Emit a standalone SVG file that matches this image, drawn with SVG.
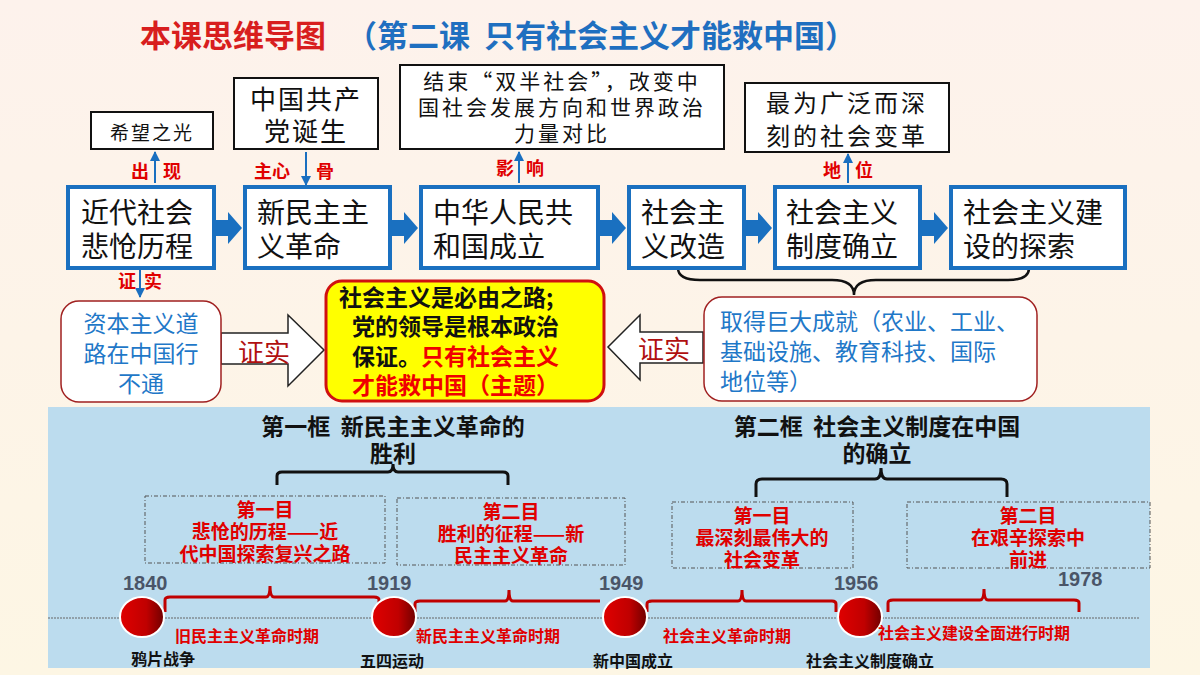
<svg xmlns="http://www.w3.org/2000/svg" width="1200" height="675" viewBox="0 0 1200 675">
<defs>
<linearGradient id="bg" x1="0" y1="0" x2="0" y2="1"><stop offset="0" stop-color="#fdf2ec"/><stop offset="1" stop-color="#fdf6e4"/></linearGradient>
<linearGradient id="ball" x1="0" y1="0" x2="1" y2="0"><stop offset="0" stop-color="#e00000"/><stop offset="0.6" stop-color="#c00000"/><stop offset="1" stop-color="#700000"/></linearGradient>
<marker id="ah" viewBox="0 0 10 10" refX="9" refY="5" markerWidth="5" markerHeight="5" orient="auto"><path d="M0,0 L10,5 L0,10 z" fill="#1a6fc0"/></marker>
</defs>
<style>
text{font-family:"Noto Sans CJK SC","Liberation Sans",sans-serif;dominant-baseline:central;white-space:pre}
.bx{fill:#fff;stroke:#1a70c0;stroke-width:4}
.tb{fill:#fff;stroke:#111;stroke-width:2}
.bt{font-size:28px;fill:#111}
.st{fill:#111}
.lab{font-size:18px;fill:#e00000;font-weight:bold}
.conn{stroke:#1a6fc0;stroke-width:2;fill:none;marker-end:url(#ah)}
.ba{fill:#1a70c0}
.bl{font-size:23px;fill:#1f78c8}
.rb{fill:#fff;stroke:#a02020;stroke-width:1.5}
.hd{font-size:23px;font-weight:bold;fill:#111}
.db{fill:none;stroke:#555;stroke-width:1;stroke-dasharray:4 2 1 2}
.dt{font-size:19px;font-weight:bold;fill:#e00000}
.yr{font-size:20px;font-weight:bold;fill:#4a5568;font-family:"Liberation Sans",sans-serif}
.pr{font-size:16px;font-weight:bold;fill:#e00000}
.ev{font-size:16px;font-weight:bold;fill:#111}
.brk{fill:none;stroke:#c00000;stroke-width:3}
.brc{fill:none;stroke:#111;stroke-width:3}
</style>
<rect width="1200" height="675" fill="url(#bg)"/>
<text x="140" y="33" font-size="31" font-weight="bold" fill="#d81e1e">本课思维导图</text>
<text x="346" y="33" font-size="31" font-weight="bold" fill="#1f6fc0" xml:space="preserve">（第二课  只有社会主义才能救中国）</text>

<g id="connectors">
<path class="conn" d="M155,183 V152"/>
<path class="conn" d="M306,152 V185"/>
<path class="conn" d="M519,183 V152"/>
<path class="conn" d="M848,183 V154"/>
<path class="conn" d="M140,270 V297"/>
<path class="ba" d="M216,220 h12 v-8 l14,16 l-14,16 v-8 h-12 z"/>
<path class="ba" d="M392,220 h12 v-8 l14,16 l-14,16 v-8 h-12 z"/>
<path class="ba" d="M600,220 h12 v-8 l14,16 l-14,16 v-8 h-12 z"/>
<path class="ba" d="M746,220 h12 v-8 l14,16 l-14,16 v-8 h-12 z"/>
<path class="ba" d="M922,220 h12 v-8 l14,16 l-14,16 v-8 h-12 z"/>
<path d="M221,333 H288 V315 L324,350 L288,386 V364 H221 z" fill="#fff" stroke="#222" stroke-width="1.5"/>
<path d="M703,332 H640 V315 L608,347 L640,380 V363 H703 z" fill="#fff" stroke="#222" stroke-width="1.5"/>
<path d="M678,268 Q678,280 700,280 H832 Q854,280 854,295 Q854,280 876,280 H1008 Q1029,280 1029,268" fill="none" stroke="#111" stroke-width="2.5"/>
</g>
<text class="lab" x="140" y="170" text-anchor="middle">出</text><text class="lab" x="172" y="170" text-anchor="middle">现</text>
<text class="lab" x="272" y="170" text-anchor="middle">主心</text><text class="lab" x="325" y="170" text-anchor="middle">骨</text>
<text class="lab" x="505" y="167" text-anchor="middle">影</text><text class="lab" x="535" y="167" text-anchor="middle">响</text>
<text class="lab" x="832" y="169" text-anchor="middle">地</text><text class="lab" x="864" y="169" text-anchor="middle">位</text>
<text class="lab" x="127" y="280" text-anchor="middle" font-size="16">证</text><text class="lab" x="153" y="280" text-anchor="middle" font-size="16">实</text>
<text x="264" y="350" font-size="26" fill="#b01010" text-anchor="middle">证实</text>
<text x="664" y="347" font-size="26" fill="#b01010" text-anchor="middle">证实</text>

<g id="n1"><rect class="bx" x="68" y="187" width="146" height="81"/><text class="bt" x="81" y="211">近代社会</text><text class="bt" x="81" y="245">悲怆历程</text></g>
<g id="n2"><rect class="bx" x="245" y="187" width="145" height="81"/><text class="bt" x="257" y="211">新民主主</text><text class="bt" x="257" y="245">义革命</text></g>
<g id="n3"><rect class="bx" x="421" y="187" width="177" height="81"/><text class="bt" x="433" y="211">中华人民共</text><text class="bt" x="433" y="245">和国成立</text></g>
<g id="n4"><rect class="bx" x="629" y="187" width="115" height="81"/><text class="bt" x="641" y="211">社会主</text><text class="bt" x="641" y="245">义改造</text></g>
<g id="n5"><rect class="bx" x="775" y="187" width="145" height="81"/><text class="bt" x="786" y="211">社会主义</text><text class="bt" x="786" y="245">制度确立</text></g>
<g id="n6"><rect class="bx" x="951" y="187" width="174" height="81"/><text class="bt" x="963" y="211">社会主义建</text><text class="bt" x="963" y="245">设的探索</text></g>

<g id="t1"><rect class="tb" x="91" y="112" width="122" height="37"/><text x="152" y="131" font-size="19" letter-spacing="2" fill="#111" text-anchor="middle">希望之光</text></g>
<g id="t2"><rect class="tb" x="234" y="78" width="144" height="71"/><text class="st" x="306" y="97" font-size="26" letter-spacing="2" text-anchor="middle">中国共产</text><text class="st" x="306" y="129" font-size="26" letter-spacing="2" text-anchor="middle">党诞生</text></g>
<g id="t3"><rect class="tb" x="400" y="65" width="324" height="84"/><text class="st" x="562" y="80" font-size="21" letter-spacing="3" text-anchor="middle">结束“双半社会”，改变中</text><text class="st" x="562" y="106" font-size="21" letter-spacing="3" text-anchor="middle">国社会发展方向和世界政治</text><text class="st" x="562" y="132" font-size="21" letter-spacing="3" text-anchor="middle">力量对比</text></g>
<g id="t4"><rect class="tb" x="745" y="83" width="204" height="69"/><text class="st" x="847" y="101" font-size="24" letter-spacing="3" text-anchor="middle">最为广泛而深</text><text class="st" x="847" y="134" font-size="24" letter-spacing="3" text-anchor="middle">刻的社会变革</text></g>

<g id="left"><rect class="rb" x="61" y="301" width="160" height="101" rx="18"/><text class="bl" x="141" y="322" text-anchor="middle">资本主义道</text><text class="bl" x="141" y="352" text-anchor="middle">路在中国行</text><text class="bl" x="141" y="382" text-anchor="middle">不通</text></g>
<g id="center"><rect x="326" y="281" width="278" height="120" rx="16" fill="#ffff00" stroke="#d01010" stroke-width="3"/>
<text x="339" y="296" font-size="23" font-weight="bold" fill="#111">社会主义是必由之路;</text>
<text x="352" y="325" font-size="23" font-weight="bold" fill="#111">党的领导是根本政治</text>
<text x="352" y="355" font-size="23" font-weight="bold" fill="#111">保证。<tspan fill="#f00000">只有社会主义</tspan></text>
<text x="352" y="384" font-size="23" font-weight="bold" fill="#f00000">才能救中国（主题）</text></g>
<g id="right"><rect class="rb" x="704" y="297" width="333" height="104" rx="18"/><text class="bl" x="720" y="320">取得巨大成就（农业、工业、</text><text class="bl" x="720" y="350">基础设施、教育科技、国际</text><text class="bl" x="720" y="380">地位等）</text></g>

<g id="panel">
<rect x="48" y="407" width="1102" height="261" fill="#bcdcee"/>
<text class="hd" x="393" y="425" text-anchor="middle" xml:space="preserve">第一框  新民主主义革命的</text>
<text class="hd" x="393" y="452" text-anchor="middle">胜利</text>
<text class="hd" x="877" y="425" text-anchor="middle" xml:space="preserve">第二框  社会主义制度在中国</text>
<text class="hd" x="877" y="452" text-anchor="middle">的确立</text>
<path class="brc" d="M277,485 V476 Q277,472 282,472 H388 Q393,472 393,464 Q393,472 398,472 H503 Q508,472 508,476 V485"/>
<path class="brc" d="M756,497 V484 Q756,479 762,479 H875 Q881,479 881,468 Q881,479 887,479 H1001 Q1007,479 1007,484 V497"/>
<rect class="db" x="145" y="496" width="240" height="67"/>
<text class="dt" x="265" y="508" text-anchor="middle">第一目</text><text class="dt" x="265" y="530" text-anchor="middle">悲怆的历程——近</text><text class="dt" x="265" y="552" text-anchor="middle">代中国探索复兴之路</text>
<rect class="db" x="397" y="498" width="228" height="67"/>
<text class="dt" x="511" y="510" text-anchor="middle">第二目</text><text class="dt" x="511" y="532" text-anchor="middle">胜利的征程——新</text><text class="dt" x="511" y="554" text-anchor="middle">民主主义革命</text>
<rect class="db" x="672" y="502" width="181" height="66"/>
<text class="dt" x="762" y="514" text-anchor="middle">第一目</text><text class="dt" x="762" y="536" text-anchor="middle">最深刻最伟大的</text><text class="dt" x="762" y="558" text-anchor="middle">社会变革</text>
<rect class="db" x="907" y="502" width="243" height="66"/>
<text class="dt" x="1028" y="514" text-anchor="middle">第二目</text><text class="dt" x="1028" y="536" text-anchor="middle">在艰辛探索中</text><text class="dt" x="1028" y="558" text-anchor="middle">前进</text>
<line x1="48" y1="618" x2="1140" y2="618" stroke="#666" stroke-width="1" stroke-dasharray="2 1"/>
<path class="brk" d="M165,612 V600 Q165,597 170,597 H266 Q270,597 270,586 Q270,597 274,597 H374 Q379,597 379,600 V612"/>
<path class="brk" d="M415,612 V604 Q415,601 420,601 H505 Q509,601 509,590 Q509,601 513,601 H600"/>
<path class="brk" d="M647,612 V604 Q647,601 652,601 H738 Q742,601 742,590 Q742,601 746,601 H832 Q836,601 836,604 V612"/>
<path class="brk" d="M888,612 V603 Q888,600 893,600 H980 Q984,600 984,589 Q984,600 988,600 H1074 Q1079,600 1079,603 V612"/>
<g stroke="#fff" stroke-width="2" fill="url(#ball)">
<ellipse cx="142" cy="617" rx="22" ry="20"/><ellipse cx="394" cy="617" rx="22" ry="20"/><ellipse cx="625" cy="617" rx="22" ry="20"/><ellipse cx="860" cy="617" rx="22" ry="20"/>
</g>
<text class="yr" x="123" y="583">1840</text><text class="yr" x="367" y="583">1919</text><text class="yr" x="599" y="583">1949</text><text class="yr" x="834" y="583">1956</text><text class="yr" x="1058" y="579" fill="#111">1978</text>
<text class="pr" x="175" y="635">旧民主主义革命时期</text><text class="pr" x="416" y="635">新民主主义革命时期</text><text class="pr" x="663" y="635">社会主义革命时期</text><text class="pr" x="878" y="632">社会主义建设全面进行时期</text>
<text class="ev" x="163" y="658" text-anchor="middle">鸦片战争</text><text class="ev" x="392" y="660" text-anchor="middle">五四运动</text><text class="ev" x="633" y="660" text-anchor="middle">新中国成立</text><text class="ev" x="870" y="660" text-anchor="middle">社会主义制度确立</text>
</g>
</svg>
